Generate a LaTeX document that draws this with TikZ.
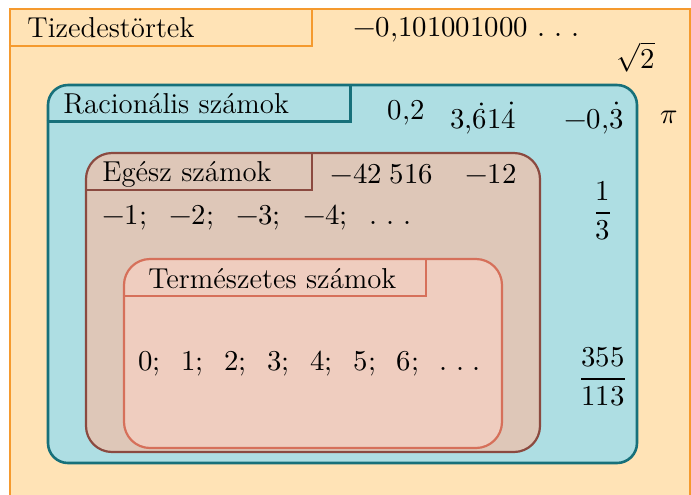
\documentclass[tikz,border=0pt]{standalone}
\usepackage{amsmath}
\usepackage{unicode-math}
\usepackage{tikz}
\definecolor{tizfill}{HTML}{FFE3B6}
\definecolor{tizline}{HTML}{F59A2E}
\definecolor{racfill}{HTML}{AEDEE3}
\definecolor{racline}{HTML}{17707A}
\definecolor{egfill}{HTML}{DEC7B8}
\definecolor{egline}{HTML}{8B4A40}
\definecolor{termfill}{HTML}{EFCDBF}
\definecolor{termline}{HTML}{D6705A}
\newcommand{\spdots}{\mathord{.}\hspace{0.3em}\mathord{.}\hspace{0.3em}\mathord{.}}

\begin{document}
\begin{tikzpicture}[
  x=0.5pt, y=-0.5pt,
  setbox/.style={rectangle, draw, inner sep=0pt, line width=1.1pt},
  tab/.style={line width=1.1pt},
  title/.style={anchor=west, inner sep=0pt, font=\fontsize{14.4}{16}\selectfont},
  num/.style={inner sep=0pt, font=\fontsize{14.4}{16}\selectfont}
]
  \useasboundingbox (0,0) rectangle (691,494);

  % Nested sets.
  \node[setbox, draw=tizline, fill=tizfill, minimum width=340pt,
    minimum height=255.5pt] (tiz) at (350,264.5) {};
  \node[setbox, draw=racline, fill=racfill, line width=1.3pt,
    rounded corners=10pt, minimum width=294.5pt, minimum height=189pt]
    (rac) at (342.5,274) {};
  \node[setbox, draw=egline, fill=egfill, rounded corners=13pt,
    minimum width=227pt, minimum height=149.5pt] (eg) at (313,302.5) {};
  \node[setbox, draw=termline, fill=termfill, rounded corners=13pt,
    minimum width=189pt, minimum height=94.5pt] (term) at (313,353.5) {};

  % Title tabs.
  \draw[tab, draw=tizline] ([yshift=-19pt]tiz.north west)
    -| ([xshift=151.5pt]tiz.north west);
  \draw[tab, draw=racline, line width=1.3pt] ([yshift=-19pt]rac.north west)
    -| ([xshift=152pt]rac.north west);
  \draw[tab, draw=egline] ([yshift=-19pt]eg.north west)
    -| ([xshift=113.5pt]eg.north west);
  \draw[tab, draw=termline] ([yshift=-19pt]term.north west)
    -| ([xshift=151.5pt]term.north west);

  \node[title] (tizT) at (27,28) {Tizedestörtek};
  \node[title] (racT) at (63,104) {Racionális számok};
  \node[title] (egT) at (102,174) {Egész számok};
  \node[title] (termT) at (148,279) {Természetes számok};

  % Elements.
  \node[num, anchor=west] (dec) at (353,30) {$-0{,}101001000\hspace{0.35em}\spdots$};
  \node[num] (sq) at (636,57) {$\sqrt{2}$};
  \node[num] (pi) at (669,117) {$\pi$};
  \node[num] (r1) at (406,113) {$0{,}2$};
  \node[num] (r2) at (483,118) {$3{,}\dot{6}1\dot{4}$};
  \node[num] (r3) at (594,118) {$-0{,}\dot{3}$};
  \node[num] (third) at (603,211) {$\dfrac{1}{3}$};
  \node[num] (frac) at (603,377) {$\dfrac{355}{113}$};
  \node[num] (e1) at (382,174) {$-42\;516$};
  \node[num] (e2) at (491,174) {$-12$};
  \node[num, anchor=west] (neg) at (102,218)
    {$-1;\hspace{0.6em}-2;\hspace{0.6em}-3;\hspace{0.6em}-4;\hspace{0.6em}\spdots$};
  \node[num, anchor=west] (nat) at (138,364)
    {$0;\hspace{0.55em}1;\hspace{0.55em}2;\hspace{0.55em}3;\hspace{0.55em}4;\hspace{0.55em}5;\hspace{0.55em}6;\hspace{0.55em}\spdots$};
\end{tikzpicture}
\end{document}
